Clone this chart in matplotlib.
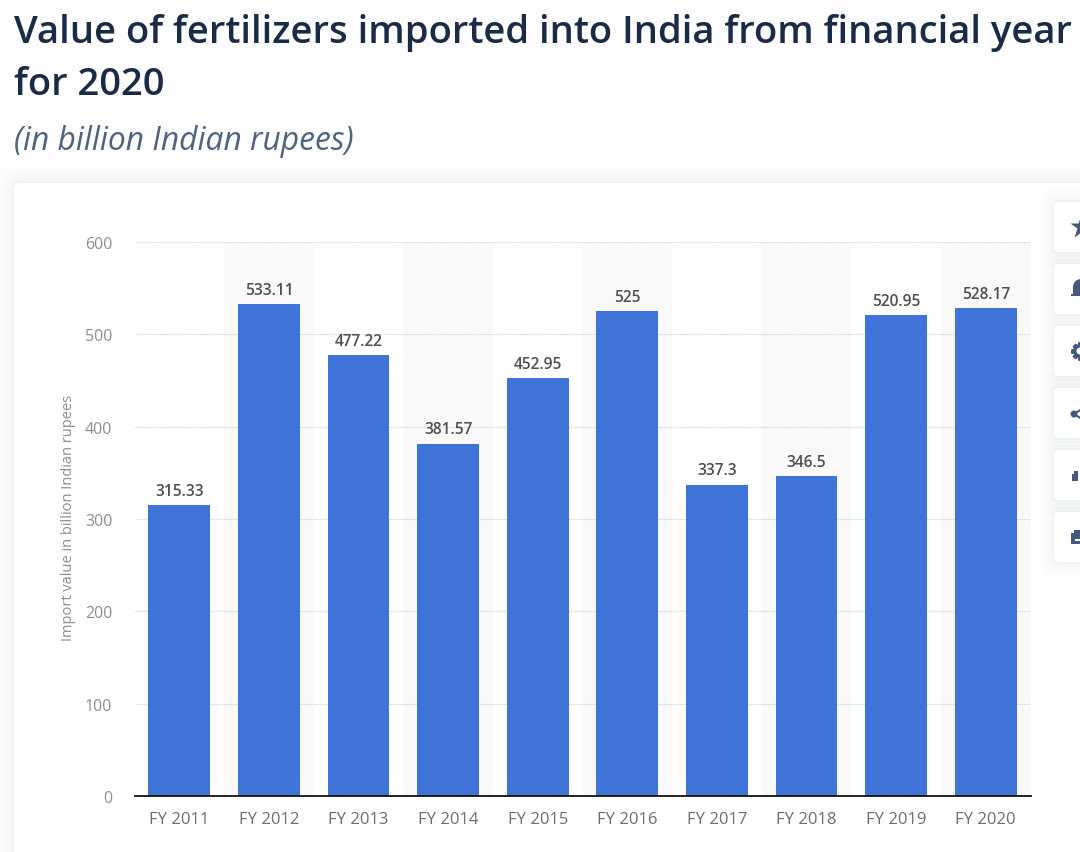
import matplotlib
matplotlib.use('Agg')
import matplotlib.pyplot as plt
from matplotlib.patches import FancyBboxPatch, Rectangle, Circle

years = ['FY 2011', 'FY 2012', 'FY 2013', 'FY 2014', 'FY 2015', 'FY 2016', 'FY 2017', 'FY 2018', 'FY 2019', 'FY 2020']
values = [315.33, 533.11, 477.22, 381.57, 452.95, 525, 337.3, 346.5, 520.95, 528.17]
yTicks = [0, 100, 200, 300, 400, 500, 600]

W, H = 1080, 853
iconColor = '#46597a'
plt.rcParams['font.family'] = ['Open Sans', 'DejaVu Sans']

fig = plt.figure(figsize=(W / 100, H / 100), dpi=100, facecolor='#fdfdfe')

# overlay in pixel coordinates for the page furniture
bg = fig.add_axes([0, 0, 1, 1], zorder=0)
bg.set_xlim(0, W)
bg.set_ylim(H, 0)
bg.axis('off')

def card(x, y, w, h, radius, z=1):
    # soft shadow made from a few faint layers
    for grow, alpha in [(14, 0.01), (9, 0.012), (5, 0.016), (2, 0.02)]:
        bg.add_patch(FancyBboxPatch((x - grow, y - grow), w + 2 * grow, h + 2 * grow,
                                    boxstyle='round,pad=0,rounding_size=%d' % (radius + grow),
                                    fc='#44546f', ec='none', alpha=alpha, zorder=z))
    bg.add_patch(FancyBboxPatch((x, y), w, h, boxstyle='round,pad=0,rounding_size=%d' % radius,
                                fc='white', ec='none', zorder=z + 0.5))

card(14, 184, 1200, 800, 6)

bg.text(14, 33, 'Value of fertilizers imported into India from financial year', fontsize=27.5,
        fontweight=600, color='#1a2b45', va='center', ha='left', zorder=5)
bg.text(14, 85, 'for 2020', fontsize=27.5, fontweight=600, color='#1a2b45', va='center', ha='left', zorder=5)
bg.text(14, 141, '(in billion Indian rupees)', fontsize=22.85, style='italic', color='#4f6280',
        va='center', ha='left', zorder=5)

# side buttons run off the right edge of the page
for i in range(6):
    card(1054, 203 + i * 62, 60, 50, 5, z=2)

def dot(x, y, r, color=iconColor):
    bg.add_patch(Circle((x, y), r, fc=color, ec='none', zorder=5))

def block(x, y, w, h, color=iconColor):
    bg.add_patch(Rectangle((x, y), w, h, fc=color, ec='none', zorder=5))

# star
bg.plot([1081], [228], marker='*', markersize=17, color=iconColor, mec='none', zorder=5)
# bell
dot(1081, 288, 8)
block(1073, 288, 12, 7)
block(1071, 295, 14, 2)
# gear
dot(1080, 352, 7)
bg.plot([1080], [352], marker=(8, 2, 0), markersize=13, color=iconColor, mew=3, zorder=5)
dot(1080, 352, 3.5, 'white')
# share
dot(1074, 415, 3.5)
bg.plot([1074, 1082], [415, 410], color=iconColor, lw=1.5, zorder=5)
bg.plot([1074, 1082], [415, 420], color=iconColor, lw=1.5, zorder=5)
# quote mark
block(1072, 475, 6, 7)
block(1074, 472, 4, 3)
# printer
block(1071, 534, 12, 11)
block(1074, 531, 8, 3)
block(1075, 540, 8, 2, 'white')

# main chart
left, right, top, bottom = 134.5, 1030.5, 243, 797
ax = fig.add_axes([left / W, 1 - bottom / H, (right - left) / W, (bottom - top) / H], zorder=3)
ax.patch.set_alpha(0)
positions = list(range(len(years)))

for pos in positions[1::2]:
    ax.axvspan(pos - 0.5, pos + 0.5, color='#f9f9f9', lw=0, zorder=0)

ax.bar(positions, values, width=0.69, color='#3f73d8', zorder=3)

for pos, val in zip(positions, values):
    ax.annotate(str(val), (pos, val), xytext=(0, 4.5), textcoords='offset points', ha='center', va='bottom',
                fontsize=11.2, fontweight=600, color='#4f4f4f', zorder=4)

ax.set_xlim(-0.5, len(years) - 0.5)
ax.set_ylim(0, 600)
ax.set_xticks(positions)
ax.set_xticklabels(years, fontsize=12, color='#6d6d6d')
ax.set_yticks(yTicks)
ax.set_yticklabels([str(t) for t in yTicks], fontsize=11.5, color='#8e8e8e')
ax.tick_params(axis='both', length=0)
ax.tick_params(axis='x', pad=11)
ax.tick_params(axis='y', pad=16)
ax.grid(True, axis='y', linestyle=(0, (1, 1)), color='#cfcfcf', linewidth=0.8, zorder=1)
ax.set_axisbelow(True)
ax.set_clip_on(False)

for side in ['top', 'right', 'left']:
    ax.spines[side].set_visible(False)
ax.spines['bottom'].set_color('#111111')
ax.spines['bottom'].set_linewidth(1.3)
ax.spines['bottom'].set_zorder(5)

bg.text(69, 518, 'Import value in billion Indian rupees', rotation=90, fontsize=10.5, color='#8e8e8e',
        va='center', ha='center', zorder=5)

fig.savefig('out.png', dpi=100, facecolor=fig.get_facecolor())
plt.close()
